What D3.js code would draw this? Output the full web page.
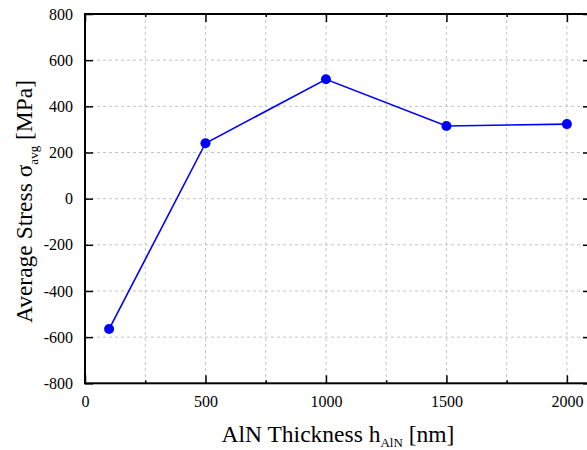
<!DOCTYPE html>
<html>
<head>
<meta charset="utf-8">
<script src="https://cdn.jsdelivr.net/npm/d3@7/dist/d3.min.js"></script>
<style>
  html, body { margin: 0; padding: 0; background: #fff; }
  svg { display: block; }
  svg text { font-family: "Liberation Serif", "Times New Roman", serif !important; fill: #000; }
</style>
</head>
<body>
<svg id="chart" width="587" height="450"></svg>
<script>
// AlN thickness (nm) vs. average stress (MPa)
const thickness = [100, 500, 1000, 1500, 2000];
const stress = [-565, 240, 517, 315, 323];

const xMajorTicks = [0, 500, 1000, 1500, 2000];
const xMinorTicks = [250, 750, 1250, 1750];
const yTicks = [-800, -600, -400, -200, 0, 200, 400, 600, 800];

const svg = d3.select("#chart");
const plotLeft = 85, plotTop = 14, plotBottom = 383.3, plotRight = 591;

const x = d3.scaleLinear().domain([0, 2100]).range([plotLeft, plotRight]);
const y = d3.scaleLinear().domain([-800, 800]).range([plotBottom, plotTop]);

const label = d => String(d);

// dashed grid
const grid = svg.append("g")
  .attr("stroke", "#c4c4c4").attr("stroke-width", 1).attr("stroke-dasharray", "3,3");
grid.selectAll("line.v").data(xMajorTicks.concat(xMinorTicks).filter(d => d > 0))
  .join("line").attr("class", "v")
  .attr("x1", d => x(d)).attr("x2", d => x(d)).attr("y1", plotTop).attr("y2", plotBottom);
grid.selectAll("line.h").data(yTicks.filter(d => d > -800 && d < 800))
  .join("line").attr("class", "h")
  .attr("x1", plotLeft).attr("x2", plotRight).attr("y1", d => y(d)).attr("y2", d => y(d));

// axes with inward ticks
const axisStyle = g => {
  g.attr("font-family", "Liberation Serif, serif").attr("font-size", 16);
  g.select(".domain").remove();
  g.selectAll(".tick line").attr("stroke", "#000").attr("stroke-width", 1.5);
  g.selectAll(".tick text").attr("font-size", 16).style("font-size", "16px");
};

svg.append("g").attr("transform", `translate(0,${plotBottom})`)
  .call(d3.axisBottom(x).tickValues(xMajorTicks).tickSizeInner(-8).tickSizeOuter(0).tickPadding(12).tickFormat(label))
  .call(axisStyle);
svg.append("g").attr("transform", `translate(0,${plotBottom})`)
  .call(d3.axisBottom(x).tickValues(xMinorTicks).tickSizeInner(-3).tickSizeOuter(0).tickFormat(""))
  .call(axisStyle);
svg.append("g").attr("transform", `translate(0,${plotTop})`)
  .call(d3.axisTop(x).tickValues(xMajorTicks).tickSizeInner(-8).tickSizeOuter(0).tickFormat(""))
  .call(axisStyle);
svg.append("g").attr("transform", `translate(0,${plotTop})`)
  .call(d3.axisTop(x).tickValues(xMinorTicks).tickSizeInner(-3).tickSizeOuter(0).tickFormat(""))
  .call(axisStyle);
svg.append("g").attr("transform", `translate(${plotLeft},0)`)
  .call(d3.axisLeft(y).tickValues(yTicks).tickSizeInner(-8).tickSizeOuter(0).tickPadding(12).tickFormat(label))
  .call(axisStyle);
svg.append("g").attr("transform", `translate(${plotRight},0)`)
  .call(d3.axisRight(y).tickValues(yTicks).tickSizeInner(-8).tickSizeOuter(0).tickFormat(""))
  .call(axisStyle);

// frame
svg.append("rect")
  .attr("x", plotLeft).attr("y", plotTop).attr("width", plotRight - plotLeft).attr("height", plotBottom - plotTop)
  .attr("fill", "none").attr("stroke", "#000").attr("stroke-width", 2);

// data line and markers
const pts = thickness.map((t, i) => [t, stress[i]]);
svg.append("path").datum(pts)
  .attr("fill", "none").attr("stroke", "#0000ff").attr("stroke-width", 1.6)
  .attr("d", d3.line().x(d => x(d[0])).y(d => y(d[1])));
svg.selectAll("circle.pt").data(pts).join("circle").attr("class", "pt")
  .attr("cx", d => x(d[0])).attr("cy", d => y(d[1])).attr("r", 5)
  .attr("fill", "#0000ff");

// axis titles
const xt = svg.append("text").attr("x", 338).attr("y", 441.5)
  .attr("text-anchor", "middle").style("font-size", "23.5px");
xt.append("tspan").text("AlN Thickness h");
xt.append("tspan").attr("dy", 5).style("font-size", "13px").text("AlN");
xt.append("tspan").attr("dy", -5).text(" [nm]");

const yt = svg.append("text").attr("transform", "translate(32,201.5) rotate(-90)")
  .attr("text-anchor", "middle").style("font-size", "23.5px");
yt.append("tspan").text("Average Stress σ");
yt.append("tspan").attr("dy", 5.5).style("font-size", "13px").text("avg");
yt.append("tspan").attr("dy", -5.5).text(" [MPa]");
</script>
</body>
</html>
